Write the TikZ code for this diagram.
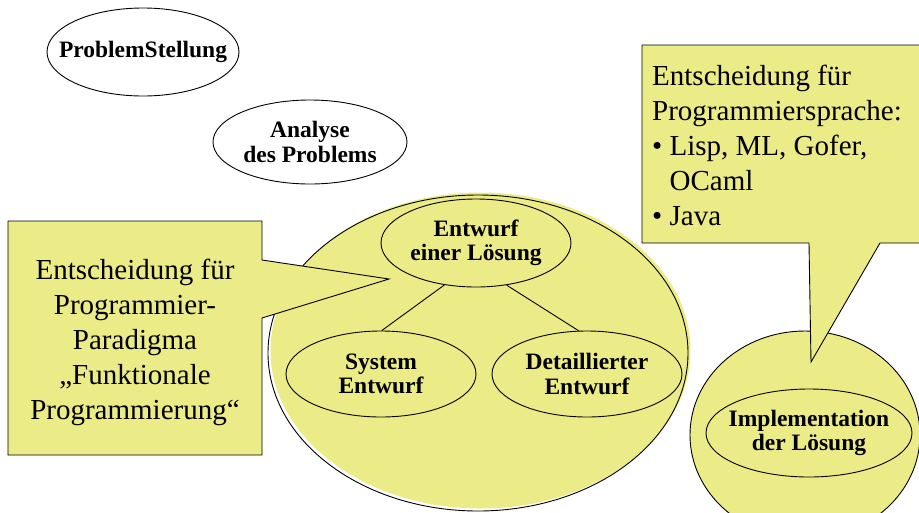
\documentclass[tikz,border=0pt]{standalone}
\usepackage{fontspec}
\setmainfont{Liberation Serif}
\usetikzlibrary{shapes.geometric}
\definecolor{callY}{RGB}{235,235,135}
\tikzset{
  ell/.style={ellipse, draw=black, line width=0.9pt, inner sep=0pt},
  lbl/.style={align=center, inner sep=0pt, font=\rmfamily\fontsize{23.5}{24.5}\selectfont\bfseries},
  bubble/.style={fill=callY, draw=black, line width=0.9pt, line join=miter},
  btext/.style={inner sep=0pt, font=\rmfamily\fontsize{29}{35}\selectfont},
  conn/.style={draw=black, line width=0.9pt}
}
\begin{document}
\begin{tikzpicture}[x=1pt, y=-1pt]
\useasboundingbox (0,0) rectangle (919,512);
% top ellipses
\node[ell, minimum width=192pt, minimum height=88pt] (ps) at (143,52) {};
\node[lbl] (psT) at (ps) {ProblemStellung};
\node[ell, minimum width=194pt, minimum height=84pt] (an) at (310,142) {};
\node[lbl] (anT) at (an) {Analyse\\des Problems};
% big ellipse (fill shifted up-right, outline)
\node[ellipse, fill=callY, inner sep=0pt, minimum width=420pt, minimum height=316pt] (bigF) at (480.5,350.5) {};
\node[ell, minimum width=420pt, minimum height=316pt] (big) at (478,353) {};
% implementation circle
\node[ell, fill=callY, minimum width=230pt, minimum height=208pt] (impC) at (805,435) {};
% inner ellipses
\node[ell, minimum width=190pt, minimum height=88pt] (en) at (476,243) {};
\node[lbl] (enT) at (en) {Entwurf\\einer Lösung};
\node[ell, minimum width=190pt, minimum height=86pt] (sy) at (381,374) {};
\node[lbl] (syT) at (sy) {System\\Entwurf};
\node[ell, minimum width=190pt, minimum height=86pt] (de) at (587,374) {};
\node[lbl] (deT) at (de) {Detaillierter\\Entwurf};
\node[ell, minimum width=206pt, minimum height=88pt] (im) at (809,433) {};
\node[lbl] (imT) at (im) {Implementation\\der Lösung};
% connectors
\draw[conn] (en.233) -- (sy.89);
\draw[conn] (en.306) -- (de.101);
% left callout
\draw[bubble] (8,221) -- (262,221) -- (262,260) -- (389,279) -- (262,318) -- (262,455) -- (8,455) -- cycle;
\node[btext, align=center, anchor=north] (lt) at (135,259) {Entscheidung für\\Programmier-\\Paradigma\\„Funktionale\\Programmierung“};
% right callout
\draw[bubble] (642,45) -- (935,45) -- (935,243) -- (880,243) -- (811,362) -- (809,243) -- (642,243) -- cycle;
\node[btext, align=left, anchor=north west] (rt) at (652,65) {Entscheidung für\\Programmiersprache:\\• Lisp, ML, Gofer,\\\hphantom{• }OCaml\\• Java};
\end{tikzpicture}
\end{document}
